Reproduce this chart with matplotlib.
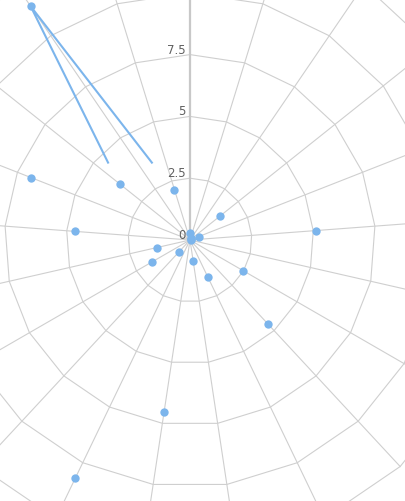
import numpy as np
import matplotlib
matplotlib.use('Agg')
import matplotlib.pyplot as plt

# datos: una categoria por radio (21 categorias)
n_cat = 21
categorias = np.arange(n_cat)
valores = [0.28, 0.08, 0.05, 1.53, 0.38, 5.12, 0.05, 2.48, 4.61, 1.64, 0.85,
           7.05, 10.69, 0.64, 1.76, 1.37, 4.65, 6.92, 3.63, 11.44, 2.13]
# linea (en unidades de categoria)
linea_x = [18.28, 19, 19.47]
linea_y = [4.56, 11.44, 3.49]
ticks_r = [0, 2.5, 5, 7.5, 10, 12.5]
etiquetas_r = ['0', '2.5', '5', '7.5']   # las demas quedan fuera de la imagen
r_max = 12.5

def a_theta(x):
    return np.asarray(x, dtype=float) * 2 * np.pi / n_cat

W, H = 406, 502
cx, cy = 190, 241          # centro en pixeles (desde arriba)
R = 309                    # radio de r_max en pixeles

fig = plt.figure(figsize=(W / 100, H / 100), dpi=100)
fig.patch.set_facecolor('white')
ax = fig.add_axes([(cx - R) / W, (H - cy - R) / H, 2 * R / W, 2 * R / H],
                  projection='polar')
ax.set_theta_zero_location('N')
ax.set_theta_direction(-1)
ax.set_ylim(0, r_max)
ax.grid(False)
ax.set_xticks([])
ax.set_yticks([])
ax.spines['polar'].set_visible(False)
ax.patch.set_alpha(0)

grid_color = '#cfcfcf'
# anillos poligonales
th_poly = a_theta(np.arange(n_cat + 1))
for r in ticks_r[1:]:
    ax.plot(th_poly, [r] * len(th_poly), color=grid_color, lw=0.8,
            clip_on=False, zorder=1)
# radios
for k in categorias:
    if k == 0:
        continue
    t = a_theta(k)
    ax.plot([t, t], [0, r_max], color=grid_color, lw=0.8, clip_on=False, zorder=1)
# eje y
ax.plot([0, 0], [0, r_max], color='#c8c8c8', lw=1.6, clip_on=False, zorder=1)

for lab in etiquetas_r:
    ax.annotate(lab, xy=(0, float(lab)), xytext=(-4, 2), textcoords='offset pixels',
                ha='right', va='baseline', fontsize=8.5, color='#606060',
                annotation_clip=False)

azul = '#7cb5ec'
ax.plot(a_theta(linea_x), linea_y, color=azul, lw=1.5, zorder=3, clip_on=False)
ax.plot(a_theta(categorias), valores, ls='none', marker='o', markersize=6,
        color=azul, markeredgewidth=0, zorder=4, clip_on=False)

fig.savefig('out.png', dpi=100, facecolor='white')
